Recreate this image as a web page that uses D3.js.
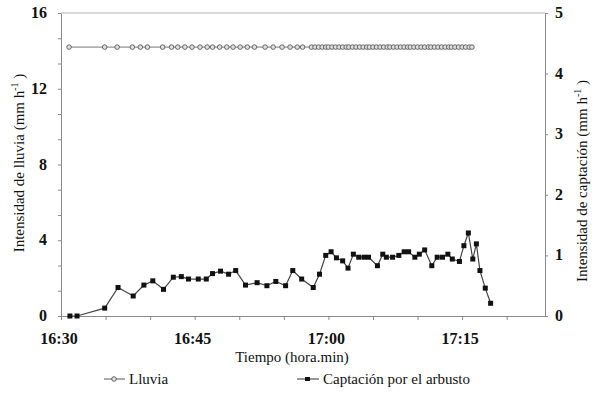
<!DOCTYPE html>
<html>
<head>
<meta charset="utf-8">
<script src="https://d3js.org/d3.v7.min.js"></script>
<style>
  body { margin: 0; background: #fff; }
  text { font-family: "Liberation Serif", "Times New Roman", serif; fill: #111; }
  .tick-lbl { font-weight: bold; font-size: 16px; }
</style>
</head>
<body>
<div id="chart"></div>
<script>
// time in minutes after 16:30
var lluviaTime = [0.9, 4.9, 6.3, 8.0, 8.9, 9.7, 11.4, 12.4, 13.1, 13.9, 14.7, 15.6, 16.4, 17.0,
  17.8, 18.6, 19.3, 20.1, 20.9, 21.7, 22.9, 23.8, 24.8, 25.7, 26.5, 27.1,
  28.1, 28.5, 28.9, 29.3, 29.7, 30.0, 30.4, 30.8, 31.2, 31.6, 32.0, 32.3, 32.7, 33.1,
  33.5, 33.9, 34.3, 34.6, 35.0, 35.4, 35.8, 36.2, 36.6, 36.9, 37.3, 37.7, 38.1, 38.5,
  38.9, 39.2, 39.6, 40.0, 40.4, 40.8, 41.2, 41.5, 41.9, 42.3, 42.7, 43.1, 43.5, 43.8,
  44.2, 44.6, 45.0, 45.4, 45.8, 46.1];
var lluviaValue = 14.2;

var captTime = [1.0, 1.8, 4.9, 6.4, 8.1, 9.3, 10.3, 11.5, 12.6, 13.5, 14.3, 15.4, 16.3, 17.0,
  17.9, 18.8, 19.6, 20.7, 22.0, 23.1, 24.1, 25.2, 26.0, 27.0, 28.3, 29.0, 29.7, 30.3,
  30.9, 31.6, 32.2, 32.8, 33.4, 34.0, 34.5, 35.5, 36.1, 36.5, 37.2, 37.9, 38.5, 39.0,
  39.7, 40.2, 40.8, 41.6, 42.2, 42.8, 43.4, 43.9, 44.7, 45.2, 45.7, 46.2, 46.6, 47.0,
  47.6, 48.2];
var captValues = [0, 0, 0.13, 0.47, 0.33, 0.51, 0.58, 0.44, 0.64, 0.65, 0.61, 0.61, 0.61, 0.70,
  0.74, 0.69, 0.75, 0.51, 0.55, 0.50, 0.57, 0.50, 0.75, 0.61, 0.47, 0.69, 1.0, 1.06,
  0.96, 0.91, 0.79, 1.02, 0.97, 0.97, 0.97, 0.83, 1.02, 0.97, 0.97, 1.0, 1.06, 1.06,
  0.97, 1.02, 1.09, 0.83, 0.97, 0.97, 1.02, 0.94, 0.90, 1.16, 1.37, 0.94, 1.19, 0.75,
  0.46, 0.21];

var xTickLabels = ["16:30", "16:45", "17:00", "17:15"];
var leftTicks = [0, 4, 8, 12, 16];
var rightTicks = [0, 1, 2, 3, 4, 5];

var svgWidth = 599;
var svgHeight = 407;

var svg = d3.select("#chart")
  .append("svg")
  .attr("width", svgWidth)
  .attr("height", svgHeight);

// scales
var x = d3.scaleLinear().domain([0, 54.3]).range([61, 545]);
var yLeft = d3.scaleLinear().domain([0, 16]).range([316, 13]);
var yRight = d3.scaleLinear().domain([0, 5]).range([316, 13]);

var axisColor = "#8a8a8a";

// top border of plot
svg.append("line")
  .attr("x1", x(0)).attr("x2", x(54.3))
  .attr("y1", yLeft(16)).attr("y2", yLeft(16))
  .attr("stroke", "#b5b5b5").attr("stroke-width", 1);

// x axis, ticks every 5 min
var xAxis = svg.append("g")
  .attr("transform", `translate(0, ${yLeft(0)})`)
  .call(d3.axisBottom(x).tickValues(d3.range(0, 51, 5)).tickSize(4).tickSizeOuter(0).tickFormat(""));
xAxis.selectAll("path, line").attr("stroke", axisColor);

svg.selectAll(".xlbl")
  .data(xTickLabels)
  .enter()
  .append("text")
  .attr("class", "tick-lbl")
  .attr("x", function(d, i) { return x(i * 15) - 2; })
  .attr("y", 344)
  .attr("text-anchor", "middle")
  .text(function(d) { return d; });

// left axis, minor ticks every 4/3
var leftAxis = svg.append("g")
  .attr("transform", `translate(${x(0)}, 0)`)
  .call(d3.axisLeft(yLeft).tickValues(d3.range(0, 13).map(function(i) { return i * 16 / 12; }))
    .tickSize(3).tickSizeOuter(0).tickFormat(""));
leftAxis.selectAll("path, line").attr("stroke", axisColor);

svg.selectAll(".llbl")
  .data(leftTicks)
  .enter()
  .append("text")
  .attr("class", "tick-lbl")
  .attr("x", 47)
  .attr("y", function(d) { return yLeft(d) + 5; })
  .attr("text-anchor", "end")
  .text(function(d) { return d; });

// right axis
var rightAxis = svg.append("g")
  .attr("transform", `translate(${x(54.3)}, 0)`)
  .call(d3.axisRight(yRight).tickValues(rightTicks).tickSize(3).tickSizeOuter(0).tickFormat(""));
rightAxis.selectAll("path, line").attr("stroke", axisColor);

svg.selectAll(".rlbl")
  .data(rightTicks)
  .enter()
  .append("text")
  .attr("class", "tick-lbl")
  .attr("x", 555)
  .attr("y", function(d) { return yRight(d) + 5; })
  .text(function(d) { return d; });

// axis titles
var leftTitle = svg.append("text")
  .attr("transform", "translate(24, 163) rotate(-90)")
  .attr("text-anchor", "middle")
  .style("font-size", "15px");
leftTitle.append("tspan").text("Intensidad de lluvia (mm h");
leftTitle.append("tspan").attr("dy", -6).style("font-size", "10px").text("-1");
leftTitle.append("tspan").attr("dy", 6).text(" )");

var rightTitle = svg.append("text")
  .attr("transform", "translate(587, 181) rotate(-90)")
  .attr("text-anchor", "middle")
  .style("font-size", "15px");
rightTitle.append("tspan").text("Intensidad de captación (mm h");
rightTitle.append("tspan").attr("dy", -6).style("font-size", "10px").text("-1");
rightTitle.append("tspan").attr("dy", 6).text(" )");

svg.append("text")
  .attr("x", 292)
  .attr("y", 362)
  .attr("text-anchor", "middle")
  .style("font-size", "15px")
  .text("Tiempo (hora.min)");

// lluvia series
var lluviaLine = d3.line()
  .x(function(d) { return x(d); })
  .y(function() { return yLeft(lluviaValue); });

svg.append("path")
  .datum(lluviaTime)
  .attr("d", lluviaLine)
  .attr("fill", "none")
  .attr("stroke", "#777")
  .attr("stroke-width", 1);

svg.selectAll(".lluvia-pt")
  .data(lluviaTime)
  .enter()
  .append("circle")
  .attr("cx", function(d) { return x(d); })
  .attr("cy", yLeft(lluviaValue))
  .attr("r", 2.3)
  .attr("fill", "#e0e0e0")
  .attr("stroke", "#5a5a5a")
  .attr("stroke-width", 0.9);

// captacion series
var captData = captTime.map(function(t, i) { return { t: t, v: captValues[i] }; });

var captLine = d3.line()
  .x(function(d) { return x(d.t); })
  .y(function(d) { return yRight(d.v); });

svg.append("path")
  .datum(captData)
  .attr("d", captLine)
  .attr("fill", "none")
  .attr("stroke", "#444")
  .attr("stroke-width", 1.2);

svg.selectAll(".capt-pt")
  .data(captData)
  .enter()
  .append("rect")
  .attr("x", function(d) { return x(d.t) - 2.5; })
  .attr("y", function(d) { return yRight(d.v) - 2.5; })
  .attr("width", 5)
  .attr("height", 5)
  .attr("fill", "#111");

// legend
var legend = svg.append("g");

legend.append("line")
  .attr("x1", 104).attr("x2", 125).attr("y1", 379).attr("y2", 379)
  .attr("stroke", "#555");
legend.append("circle")
  .attr("cx", 114).attr("cy", 379).attr("r", 2.3)
  .attr("fill", "#e0e0e0").attr("stroke", "#555").attr("stroke-width", 0.9);
legend.append("text")
  .attr("x", 129).attr("y", 384)
  .style("font-size", "15px")
  .text("Lluvia");

legend.append("line")
  .attr("x1", 297).attr("x2", 319).attr("y1", 379).attr("y2", 379)
  .attr("stroke", "#333");
legend.append("rect")
  .attr("x", 305).attr("y", 377).attr("width", 5).attr("height", 4)
  .attr("fill", "#111");
legend.append("text")
  .attr("x", 323).attr("y", 384)
  .style("font-size", "15px")
  .text("Captación por el arbusto");
</script>
</body>
</html>
